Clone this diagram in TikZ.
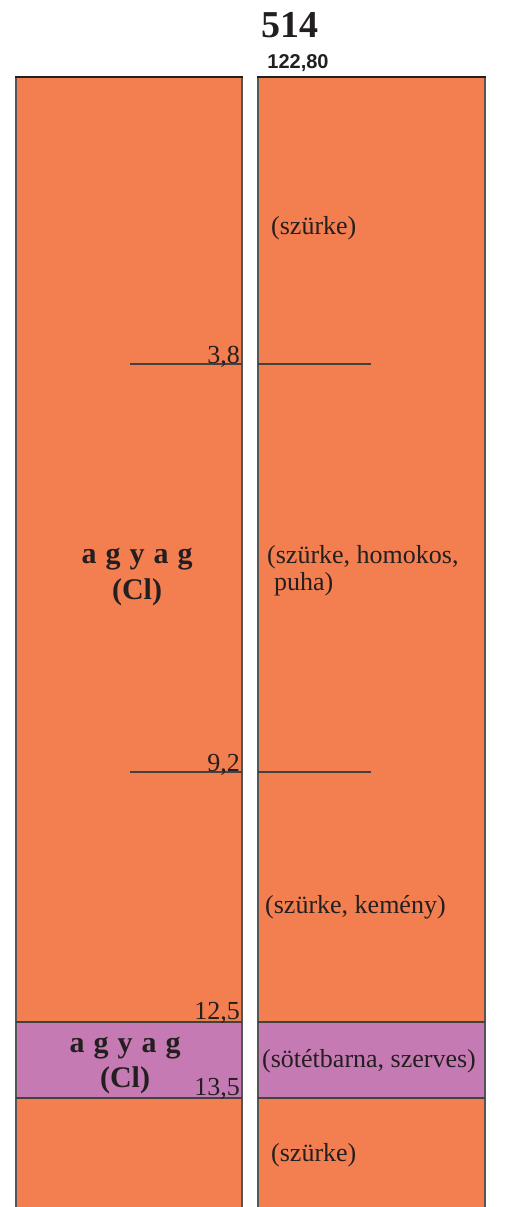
\documentclass[tikz,border=0pt]{standalone}
\usepackage{fontspec}
\setmainfont{Liberation Serif}
\newfontfamily\headsans{Liberation Sans}
\usetikzlibrary{positioning}
\definecolor{SoilOrange}{HTML}{F37E50}
\definecolor{SoilPurple}{HTML}{C67AB3}
\definecolor{SoilEdge}{HTML}{555555}
\definecolor{SoilText}{HTML}{231F20}
\newcommand{\wideclay}{\spaceskip=9pt plus 0pt minus 0pt\relax}

\begin{document}
\begin{tikzpicture}[x=1pt,y=-1pt]
    \tikzset{desclabel/.style={anchor=base west,inner sep=0pt,font=\fontsize{26}{30}\selectfont,text=SoilText},
      depthlabel/.style={anchor=base east,inner sep=0pt,font=\fontsize{26}{30}\selectfont,text=SoilText},
      soillabel/.style={anchor=base,inner sep=0pt,font=\fontsize{30}{36}\selectfont\bfseries\wideclay,text=SoilText},
      layerline/.style={draw=SoilText!85,line width=1.2pt}}
    \useasboundingbox (0,0) rectangle (504,1207);
    % columns
    \fill[SoilOrange] (16,77) rectangle (242,1207);
    \fill[SoilOrange] (258,77) rectangle (485,1207);
    \fill[SoilPurple] (16,1022) rectangle (242,1098);
    \fill[SoilPurple] (258,1022) rectangle (485,1098);
    \draw[SoilEdge,line width=1.5pt] (16,1207) -- (16,77) (242,77) -- (242,1207);
    \draw[SoilEdge,line width=1.5pt] (258,1207) -- (258,77) (485,77) -- (485,1207);
    \draw[SoilText,line width=2pt] (15,77) -- (243,77) (257,77) -- (486,77);
    \draw[layerline] (16,1022) -- (242,1022) (258,1022) -- (485,1022);
    \draw[layerline] (16,1098) -- (242,1098) (258,1098) -- (485,1098);
    \draw[layerline] (130,364) -- (242,364) (258,364) -- (371,364);
    \draw[layerline] (130,772) -- (242,772) (258,772) -- (371,772);
    % header
    \node[anchor=base,inner sep=0pt,font=\fontsize{38}{40}\selectfont\bfseries,text=SoilText] (hole) at (290,38) {514};
    \node[anchor=base,inner sep=0pt,font=\headsans\fontsize{20}{22}\selectfont\bfseries,text=SoilText] (elev) at (298,68) {122,80};
    % depths
    \node[depthlabel] (d38) at (240,363) {3,8};
    \node[depthlabel] (d92) at (240,771) {9,2};
    \node[depthlabel] (d125) at (240,1019) {12,5};
    \node[depthlabel] (d135) at (240,1095) {13,5};
    % soil names
    \node[soillabel] (clayA) at (137,563) {a g y a g};
    \node[soillabel] (clayAcode) at (137,599) {(Cl)};
    \node[soillabel] (clayB) at (125,1052) {a g y a g};
    \node[soillabel] (clayBcode) at (125,1087) {(Cl)};
    % descriptions
    \node[desclabel] (descA) at (271,234) {(szürke)};
    \node[desclabel] (descB) at (267,563) {(szürke, homokos,};
    \node[desclabel] (descBb) at (274,590) {puha)};
    \node[desclabel] (descC) at (265,913) {(szürke, kemény)};
    \node[desclabel] (descD) at (262,1067) {(sötétbarna, szerves)};
    \node[desclabel] (descE) at (271,1161) {(szürke)};
\end{tikzpicture}
\end{document}
